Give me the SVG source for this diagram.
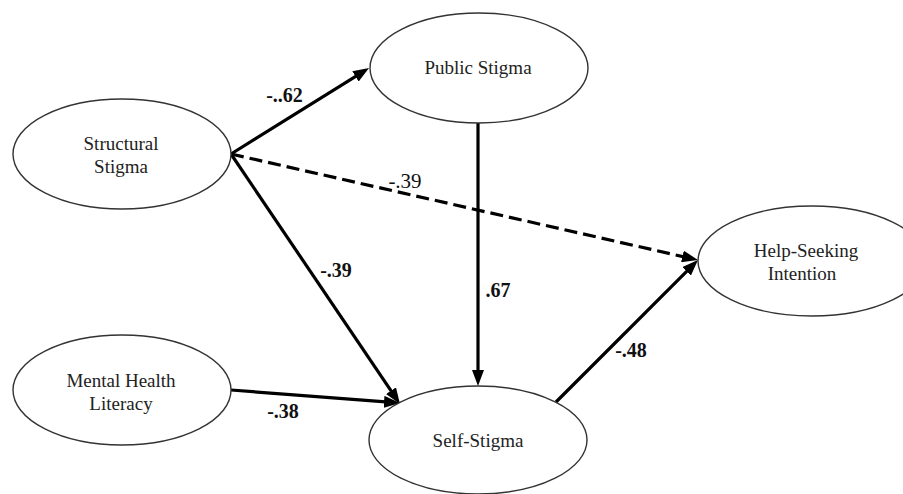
<svg xmlns="http://www.w3.org/2000/svg" width="903" height="494" viewBox="0 0 903 494">
<style>
.node ellipse{fill:#fff;stroke:#333;stroke-width:1.4}
text{font-family:"Liberation Serif","DejaVu Serif","Times New Roman",serif;fill:#111;text-anchor:middle}
.nt{font-size:19px;fill:#222}
.lb{font-size:20px;font-weight:bold}
.ln{font-size:21px}
.edge{fill:none;stroke:#000;stroke-width:3.2;marker-end:url(#ah)}
.dash{stroke-dasharray:13 6}
</style>
<defs>
<marker id="ah" markerUnits="userSpaceOnUse" viewBox="0 0 16 12" markerWidth="16" markerHeight="12" refX="5" refY="6" orient="auto">
<path d="M0,0 L16,6 L0,12 z" fill="#000"/>
</marker>
</defs>
<rect width="903" height="494" fill="#fff"/>
<g id="connectors">
<path class="edge" d="M231,154 L359.7,73.8"/>
<path class="edge dash" d="M231,154 L687.3,257.6"/>
<path class="edge" d="M231,154 L393.8,394.9"/>
<path class="edge" d="M478,123 L478,375"/>
<path class="edge" d="M231,390 L389,402.2"/>
<path class="edge" d="M556,402 L690.2,267.8"/>
</g>
<g id="labels">
<text class="lb" x="284.5" y="102">-..62</text>
<text class="ln" x="405" y="188">-.39</text>
<text class="lb" x="336" y="277">-.39</text>
<text class="lb" x="498" y="297">.67</text>
<text class="lb" x="631" y="357">-.48</text>
<text class="lb" x="283" y="418">-.38</text>
</g>
<g id="structural-stigma" class="node">
<ellipse cx="122" cy="154" rx="109" ry="55"/>
<text class="nt" x="121" y="150">Structural</text>
<text class="nt" x="121" y="173">Stigma</text>
</g>
<g id="public-stigma" class="node">
<ellipse cx="479" cy="68" rx="109" ry="55"/>
<text class="nt" x="478" y="74">Public Stigma</text>
</g>
<g id="help-seeking-intention" class="node">
<ellipse cx="812" cy="261" rx="114" ry="55"/>
<text class="nt" x="806" y="257">Help-Seeking</text>
<text class="nt" x="802" y="280">Intention</text>
</g>
<g id="mental-health-literacy" class="node">
<ellipse cx="122" cy="390" rx="109" ry="55"/>
<text class="nt" x="121" y="387">Mental Health</text>
<text class="nt" x="121" y="410">Literacy</text>
</g>
<g id="self-stigma" class="node">
<ellipse cx="478" cy="440" rx="109" ry="54"/>
<text class="nt" x="478" y="447">Self-Stigma</text>
</g>
</svg>
